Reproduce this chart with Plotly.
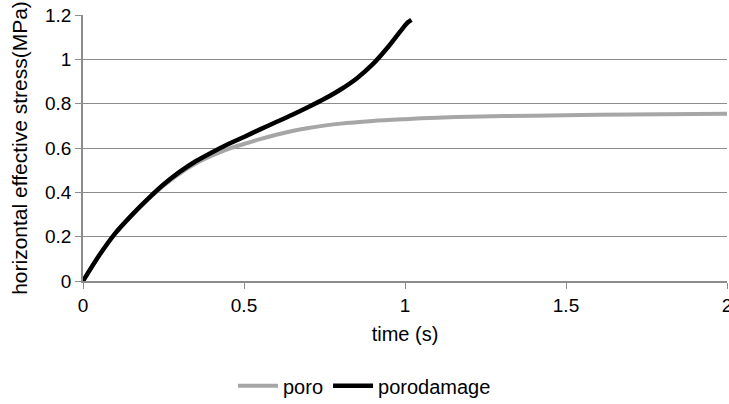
import plotly.graph_objects as go

t_poro = [0, 0.05, 0.1, 0.15, 0.2, 0.25, 0.3, 0.35, 0.4, 0.45, 0.5, 0.55, 0.6, 0.65, 0.7,
          0.8, 0.9, 1.0, 1.1, 1.2, 1.4, 1.6, 1.8, 2.0]
y_poro = [0, 0.115, 0.215, 0.295, 0.365, 0.43, 0.485, 0.53, 0.565, 0.595, 0.618, 0.64,
          0.66, 0.677, 0.69, 0.71, 0.722, 0.73, 0.737, 0.741, 0.746, 0.75, 0.752, 0.754]

t_dmg = [0, 0.05, 0.1, 0.15, 0.2, 0.25, 0.3, 0.35, 0.4, 0.45, 0.5, 0.55, 0.6, 0.65, 0.7,
         0.75, 0.8, 0.85, 0.9, 0.95, 1.0, 1.01, 1.02]
y_dmg = [0, 0.115, 0.215, 0.295, 0.368, 0.435, 0.492, 0.54, 0.58, 0.617, 0.65, 0.684,
         0.717, 0.75, 0.785, 0.822, 0.864, 0.914, 0.978, 1.06, 1.153, 1.168, 1.178]

x_ticks = [0, 0.5, 1, 1.5, 2]
y_ticks = [0, 0.2, 0.4, 0.6, 0.8, 1, 1.2]

FONT = "Liberation Sans, Arial, sans-serif"
GRID = "#8c8c8c"

fig = go.Figure()
fig.add_trace(go.Scatter(x=t_poro, y=y_poro, mode="lines", name="poro",
                         line=dict(color="#a6a6a6", width=4, shape="spline", smoothing=0.8)))
fig.add_trace(go.Scatter(x=t_dmg, y=y_dmg, mode="lines", name="porodamage",
                         line=dict(color="#000000", width=4.5, shape="spline", smoothing=0.8)))

fig.update_layout(
    width=729, height=404,
    margin=dict(l=83, r=2, t=15, b=123),
    paper_bgcolor="white", plot_bgcolor="white",
    font=dict(family=FONT, size=19, color="#000000"),
    showlegend=True,
    legend=dict(orientation="h", xref="container", yref="container",
                x=0.5, xanchor="center", y=0.045, yanchor="middle",
                font=dict(size=20), itemwidth=40, tracegroupgap=0),
    xaxis=dict(range=[0, 2], tickvals=x_ticks, showgrid=False,
               showline=True, linecolor=GRID, linewidth=1.5,
               ticks="outside", ticklen=6, tickcolor=GRID,
               zeroline=False, automargin=False, ticklabeloverflow="allow",
               title=dict(text="time (s)", font=dict(size=20), standoff=12)),
    yaxis=dict(range=[0, 1.2], tickvals=y_ticks, showgrid=True,
               gridcolor=GRID, gridwidth=1,
               showline=True, linecolor=GRID, linewidth=1.5,
               ticks="outside", ticklen=6, tickcolor=GRID,
               zeroline=False, automargin=False,
               title=dict(text="horizontal effective stress(MPa)", font=dict(size=21), standoff=12)),
)

fig.write_html("out.html")
